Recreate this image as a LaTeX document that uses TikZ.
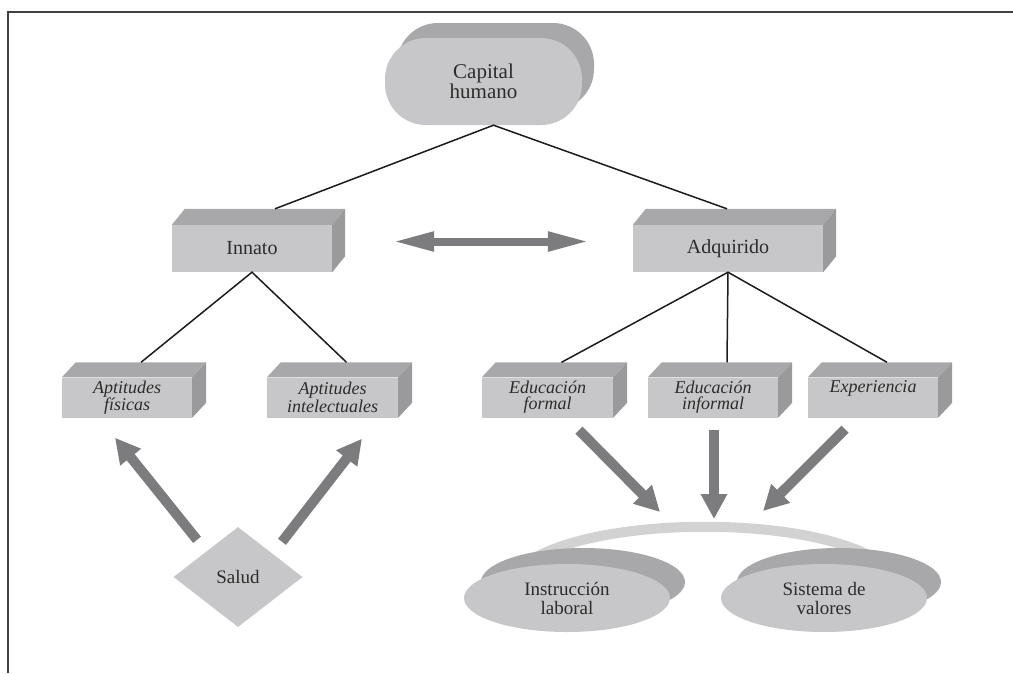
\documentclass[tikz,border=0pt]{standalone}
\usepackage{fontspec}
\setmainfont{Liberation Serif}
\usetikzlibrary{arrows.meta,calc,shapes.geometric}
\definecolor{frontgray}{HTML}{C7C7C9}
\definecolor{topgray}{HTML}{A8A8AA}
\definecolor{sidegray}{HTML}{9A9A9C}
\definecolor{arrowgray}{HTML}{7C7C7E}
\definecolor{arcgray}{HTML}{D2D2D2}
\definecolor{txtgray}{HTML}{2C2C2C}
\definecolor{linegray}{HTML}{1C1C1C}
\definecolor{framegray}{HTML}{404040}
\newcommand\bdx{14}
\newcommand\bdy{-15}
\newcommand\prismbox[6]{%
  \node[frontbox, #5, minimum width=#3, minimum height=#4] (#1) at (#2) {#6};
  \fill[topgray] (#1.north west) -- ++(\bdx,\bdy) -- ($(#1.north east)+(\bdx,\bdy)$) -- (#1.north east) -- cycle;
  \fill[sidegray] (#1.north east) -- ++(\bdx,\bdy) -- ($(#1.south east)+(\bdx,\bdy)$) -- (#1.south east) -- cycle;
  \coordinate (#1-top) at ($(#1.north)+(\bdx,\bdy)$);
}
\begin{document}
\begin{tikzpicture}[x=1pt,y=-1pt,
  frontbox/.style={rectangle, fill=frontgray, inner sep=0pt, text=txtgray, align=center},
  bigfont/.style={font=\fontsize{20}{18}\selectfont},
  smallfont/.style={font=\fontsize{18}{16}\selectfont\itshape},
  conn/.style={draw=linegray, line width=1.5pt},
  bigarrow/.style={draw=arrowgray, line width=10pt, -{Triangle[length=25pt,width=25pt]}},
  dblarrow/.style={draw=arrowgray, line width=8pt, {Triangle[length=42pt,width=18pt]}-{Triangle[length=42pt,width=18pt]}},
  ovalfront/.style={ellipse, fill=frontgray, inner sep=0pt, text=txtgray, align=center, font=\fontsize{19}{19}\selectfont, minimum width=206pt, minimum height=68pt}
]
\useasboundingbox (0,0) rectangle (1013,673);
\fill[white] (0,0) rectangle (1013,673);
% frame
\draw[framegray, line width=2pt] (8,673) -- (8,11.5) -- (1013,11.5);

% top node
\fill[topgray, rounded corners=41pt] (397,23) rectangle (594,110);
\node[frontbox, rounded corners=41pt, minimum width=197pt, minimum height=87pt,
      font=\fontsize{21}{17.5}\selectfont] (capital) at (483.5,81.5) {Capital\\humano};

% second level
\renewcommand\bdx{13}\renewcommand\bdy{-16}
\prismbox{innato}{252,248.5}{160pt}{47pt}{bigfont}{Innato}
\prismbox{adq}{728,248.5}{190pt}{47pt}{bigfont}{Adquirido}

% third level
\renewcommand\bdx{14}\renewcommand\bdy{-15}
\prismbox{fis}{127,397.5}{130pt}{40pt}{smallfont}{Aptitudes\\f\'isicas}
\prismbox{intel}{332.5,397.5}{131pt}{40pt}{smallfont}{Aptitudes\\intelectuales}
\prismbox{edf}{547.5,397.5}{131pt}{40pt}{smallfont}{Educaci\'on\\formal}
\prismbox{edi}{713,397.5}{130pt}{40pt}{smallfont}{Educaci\'on\\informal}
\prismbox{exp}{873,397.5}{130pt}{40pt}{smallfont}{Experiencia\\\phantom{f}}

% connectors
\coordinate (cap-b) at ($(capital.south)+(10,0)$);
\coordinate (innato-in) at ($(innato.north)+(23,-16)$);
\coordinate (adq-in) at ($(adq.north)+(-1,-16)$);
\draw[conn] (innato-in) -- (cap-b) -- (adq-in);
\draw[conn] (fis-top) -- (innato.south) -- (intel-top);
\draw[conn] (edf-top) -- (adq.south) -- (exp-top);
\draw[conn] (adq.south) -- (edi-top);

% double arrow
\draw[dblarrow] ($(innato.east)+(60,-7)$) -- ($(adq.west)+(-43,-7)$);

% Salud
\node[diamond, fill=frontgray, inner sep=0pt, aspect=1.29, minimum width=129pt, minimum height=100pt,
      text=txtgray, font=\fontsize{19}{19}\selectfont] (salud) at (238,577) {Salud};
\draw[bigarrow] ($(salud.north)+(-41,13)$) -- ($(fis.south)+(-12,20)$);
\draw[bigarrow] ($(salud.north)+(44,15)$) -- ($(intel.south)+(29.5,21)$);

% arc and ovals
\coordinate (arcl) at (528,562);
\coordinate (arcr) at (880,562);
\draw[arcgray, line width=10pt] (arcl) .. controls (598,515) and (812,515) .. (arcr);
\fill[topgray] (583,582) ellipse [x radius=102pt, y radius=34pt];
\fill[topgray] (839,582) ellipse [x radius=102pt, y radius=34pt];
\node[ovalfront] (instr) at (567,598) {Instrucci\'on\\laboral};
\node[ovalfront] (valores) at (824,598) {Sistema de\\valores};

% arrows to ovals
\coordinate (t1) at (660,512);
\coordinate (t2) at (714,519);
\coordinate (t3) at (763,511);
\draw[bigarrow] ($(edf.south)+(31.5,12.5)$) -- (t1);
\draw[bigarrow] ($(edi.south)+(1,12.5)$) -- (t2);
\draw[bigarrow] ($(exp.south)+(-28,11.5)$) -- (t3);
\end{tikzpicture}
\end{document}
